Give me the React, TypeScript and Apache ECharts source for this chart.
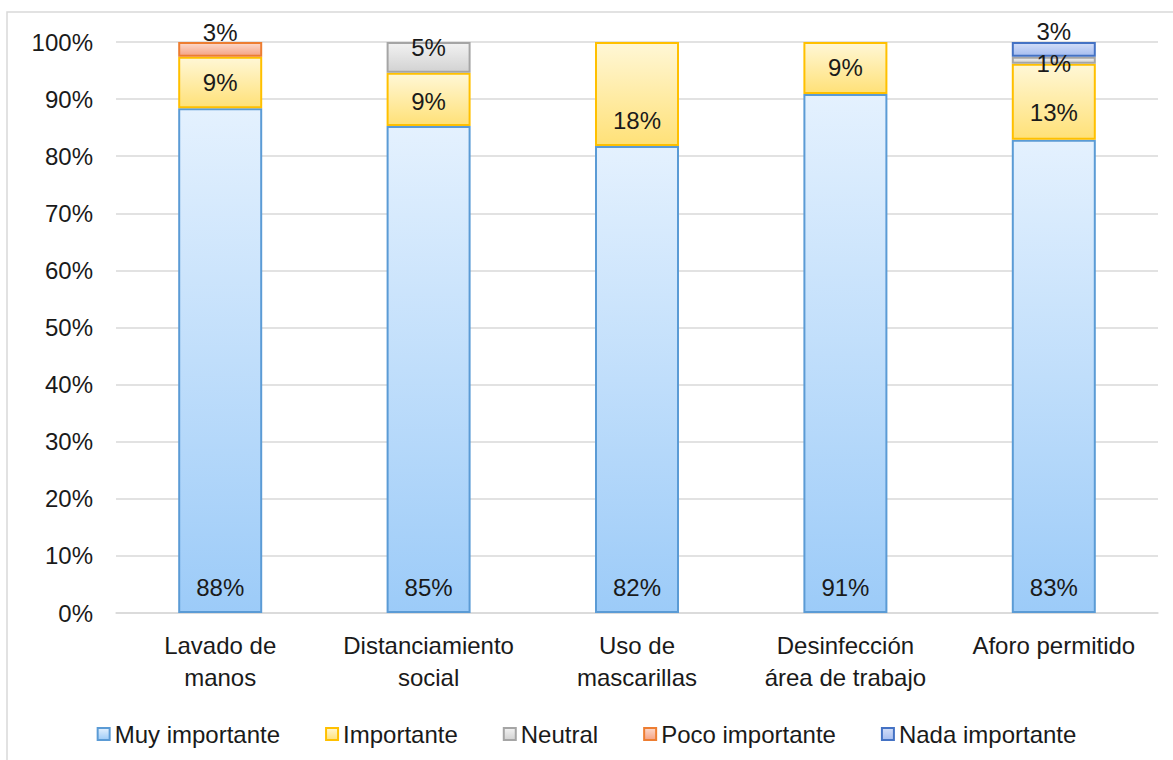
import React, { useEffect, useRef } from "react";
import * as echarts from "echarts";

const categories = [
  "Lavado de\nmanos",
  "Distanciamiento\nsocial",
  "Uso de\nmascarillas",
  "Desinfección\nárea de trabajo",
  "Aforo permitido",
];
const seriesNames = ["Muy importante", "Importante", "Neutral", "Poco importante", "Nada importante"];
const muyImportante = [88.4, 85.3, 81.8, 90.9, 82.9];
const importante = [9.0, 9.3, 18.2, 9.1, 13.3];
const neutral = [0, 5.4, 0, 0, 1.2];
const pocoImportante = [2.6, 0, 0, 0, 0];
const nadaImportante = [0, 0, 0, 0, 2.6];
const yTicks = [0, 100, 10];

const styles = [
  { top: "#e4f1fe", bottom: "#9ccbf8", border: "#5b9bd5" },
  { top: "#fff7d6", bottom: "#ffe178", border: "#ffc000" },
  { top: "#f2f2f2", bottom: "#d2d2d2", border: "#a5a5a5" },
  { top: "#fcd9cb", bottom: "#f5a283", border: "#ed7d31" },
  { top: "#d3def8", bottom: "#a6bdf0", border: "#4472c4" },
];

// label vertical nudges (px) per series / per category
const labelNudges = [
  [0, 0, 0, 0, 0],
  [0, 2, 27, 0, 11],
  [0, -10, 0, 0, 3],
  [-17, 0, 0, 0, 0],
  [0, 0, 0, 0, -18],
];

export default function App() {
  const ref = useRef<HTMLDivElement>(null);
  useEffect(() => {
    if (!ref.current) return;
    const chart = echarts.init(ref.current, null, { renderer: "svg" });
    const all = [muyImportante, importante, neutral, pocoImportante, nadaImportante];
    const font = "'Liberation Sans', Arial, sans-serif";
    const fs = 24;
    const series = all.map((vals, si) => ({
      name: seriesNames[si],
      type: "bar",
      stack: "total",
      barWidth: 84,
      data: vals.map((v, ci) =>
        v > 0
          ? {
              value: v,
              label: { show: true, offset: [0, labelNudges[si][ci]] },
            }
          : { value: null, label: { show: false } }
      ),
      itemStyle: {
        color: new echarts.graphic.LinearGradient(0, 0, 0, 1, [
          { offset: 0, color: styles[si].top },
          { offset: 1, color: styles[si].bottom },
        ]),
        borderColor: styles[si].border,
        borderWidth: 2,
      },
      label: {
        show: true,
        position: si === 0 ? "insideBottom" : "inside",
        distance: 14,
        fontSize: fs,
        fontFamily: font,
        color: "#1a1a1a",
        formatter: (p: any) => (p.value > 0 ? Math.round(p.value) + "%" : ""),
      },
      emphasis: { disabled: true },
    }));
    chart.setOption({
      animation: false,
      backgroundColor: "#ffffff",
      textStyle: { fontFamily: font },
      graphic: [
        {
          type: "rect",
          shape: { x: 7, y: 12, width: 1300, height: 900 },
          style: { fill: "none", stroke: "#d9d9d9", lineWidth: 1.5 },
          silent: true,
        },
      ],
      grid: { left: 116, right: 15, top: 42, bottom: 147 },
      legend: {
        top: 717,
        left: "center",
        itemWidth: 12,
        itemHeight: 12,
        itemGap: 45,
        icon: "rect",
        textStyle: { fontSize: fs, color: "#1a1a1a", fontFamily: font },
        data: seriesNames,
      },
      xAxis: {
        type: "category",
        data: categories,
        axisLine: { show: true, lineStyle: { color: "#d9d9d9", width: 1.5 } },
        axisTick: { show: false },
        axisLabel: {
          fontSize: fs,
          color: "#1a1a1a",
          lineHeight: 32,
          margin: 16,
          fontFamily: font,
          interval: 0,
        },
      },
      yAxis: {
        type: "value",
        min: yTicks[0],
        max: yTicks[1],
        interval: yTicks[2],
        axisLine: { show: false },
        axisTick: { show: false },
        splitLine: { lineStyle: { color: "#d9d9d9", width: 1.5 } },
        axisLabel: {
          formatter: "{value}%",
          fontSize: fs,
          color: "#1a1a1a",
          margin: 23,
          fontFamily: font,
        },
      },
      series,
    });
    return () => chart.dispose();
  }, []);
  return (
    <div
      ref={ref}
      style={{ position: "absolute", left: 0, top: 0, width: 1173, height: 760 }}
    />
  );
}
